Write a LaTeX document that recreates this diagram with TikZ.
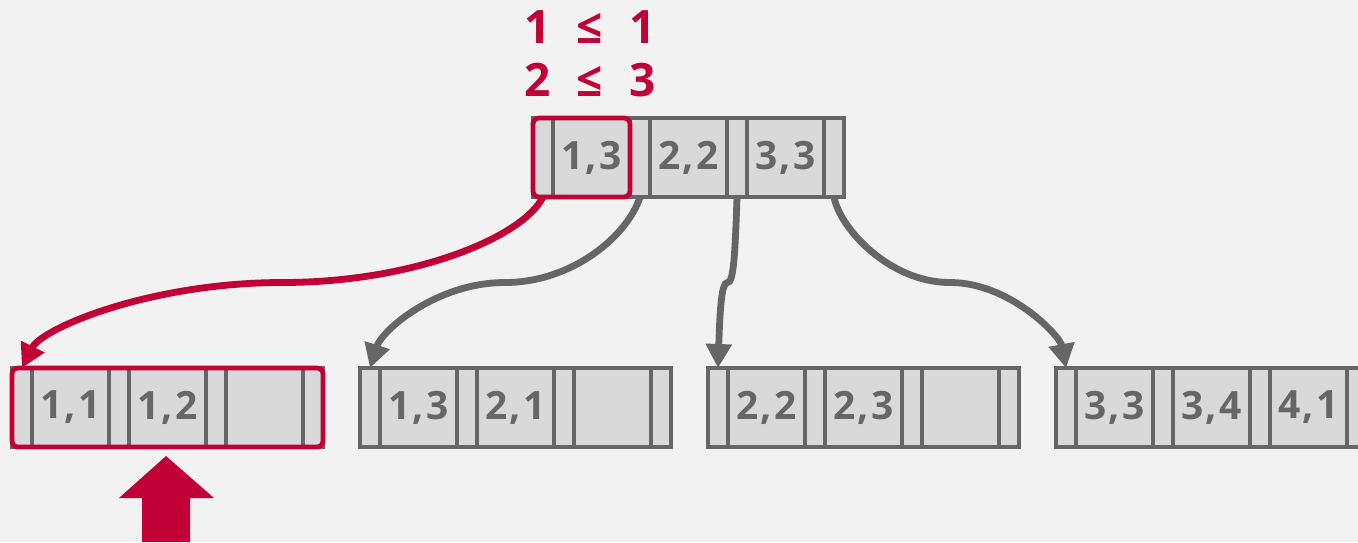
\documentclass[tikz,border=0pt]{standalone}
\usepackage{fontspec}
\setmainfont{Open Sans}
\newfontfamily\keyfont{Open Sans}[LetterSpace=6]
\usepackage{xcolor}
\usetikzlibrary{
    arrows.meta,
    positioning,
    fit,
    calc
}

\definecolor{bgcol}{HTML}{F2F2F2}
\definecolor{cellfill}{HTML}{D9D9D9}
\definecolor{linegray}{HTML}{666666}
\definecolor{accent}{HTML}{C00036}

% one B+tree node: name, x, y, three keys
\newcommand{\btnode}[6]{%
    \node[ptrcell, anchor=north west] (#1-p0) at (#2,#3) {};
    \node[keycell, right=0pt of #1-p0] (#1-k1) {#4};
    \node[ptrcell, right=0pt of #1-k1] (#1-p1) {};
    \node[keycell, right=0pt of #1-p1] (#1-k2) {#5};
    \node[ptrcell, right=0pt of #1-k2] (#1-p2) {};
    \node[keycell, right=0pt of #1-p2] (#1-k3) {#6};
    \node[ptrcell, right=0pt of #1-k3] (#1-p3) {};
}

\begin{document}
\begin{tikzpicture}[
    x=0.5pt,
    y=-0.5pt,
    ptrcell/.style={
        rectangle,
        draw=linegray,
        line width=1.6pt,
        fill=cellfill,
        outer sep=0pt,
        inner sep=0pt,
        minimum width=10pt,
        minimum height=39.5pt
    },
    keycell/.style={
        ptrcell,
        text=linegray,
        font=\keyfont\bfseries\fontsize{19.5}{22}\selectfont,
        minimum width=38.5pt
    },
    highlight/.style={
        draw=accent,
        line width=2.4pt,
        rounded corners=3pt,
        inner sep=0pt
    },
    arrow/.style={
        -{Triangle[length=12pt,width=12.5pt]},
        line width=3.4pt,
        draw=linegray
    },
    hotarrow/.style={
        arrow,
        draw=accent
    },
    cmp/.style={
        text=accent,
        font=\fontsize{23}{26}\selectfont\bfseries
    }
]

\fill[bgcol] (0,0) rectangle (1358,542);
\useasboundingbox (0,0) rectangle (1358,542);

% =========================================================
% Root and leaves
% =========================================================
\btnode{root}{533}{118}{1,3}{2,2}{3,3}
\btnode{leaf1}{12}{368}{1,1}{1,2}{}
\btnode{leaf2}{360}{368}{1,3}{2,1}{}
\btnode{leaf3}{708}{368}{2,2}{2,3}{}
\btnode{leaf4}{1056}{368}{3,3}{3,4}{4,1}

\node[highlight, fit=(root-p0)(root-k1)] (rootsel) {};
\node[highlight, fit=(leaf1-p0)(leaf1-p3)] (leafsel) {};

% =========================================================
% Comparison
% =========================================================
\node[cmp] (cmp1) at (590,27) {1\hspace{13pt}≤\hspace{13pt}1};
\node[cmp] (cmp2) at (590,80) {2\hspace{13pt}≤\hspace{13pt}3};

% =========================================================
% Child pointers
% =========================================================
\draw[hotarrow] (root-p0.south)
    .. controls +(-20,40) and +(132,0) .. ($(root-p0.south)!.5!(leaf1-p0.north)$)
    .. controls +(-132,0) and +(20,-40) .. (leaf1-p0.north);

\draw[arrow] (root-p1.south)
    .. controls +(-12,38) and +(68,0) .. ($(root-p1.south)!.5!(leaf2-p0.north)$)
    .. controls +(-68,0) and +(12,-38) .. (leaf2-p0.north);

\draw[arrow] (root-p2.south)
    .. controls +(-2,60) and +(6,0) .. ($(root-p2.south)!.5!(leaf3-p0.north)$)
    .. controls +(-6,0) and +(2,-60) .. (leaf3-p0.north);

\draw[arrow] (root-p3.south)
    .. controls +(6,32) and +(-60,0) .. ($(root-p3.south)!.5!(leaf4-p0.north)$)
    .. controls +(60,0) and +(-6,-32) .. (leaf4-p0.north);

% =========================================================
% Cursor
% =========================================================
\fill[accent] (166,456) -- (214,498) -- (190,498) -- (190,542)
    -- (142,542) -- (142,498) -- (119,498) -- cycle;

\end{tikzpicture}
\end{document}
